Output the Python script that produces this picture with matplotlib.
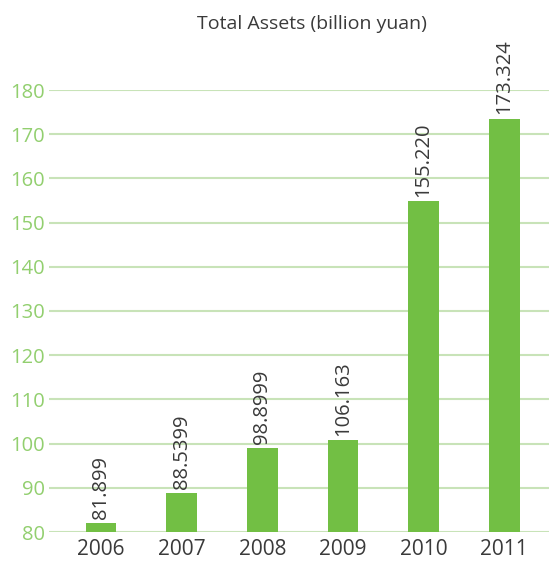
import matplotlib.pyplot as plt

years = ['2006', '2007', '2008', '2009', '2010', '2011']
bar_heights = [82.0, 88.8, 99.0, 100.8, 154.8, 173.5]
value_labels = ['81.899', '88.5399', '98.8999', '106.163', '155.220', '173.324']
y_ticks = [80, 90, 100, 110, 120, 130, 140, 150, 160, 170, 180]

bar_color = '#72bf44'
grid_color = '#c8e3b8'
tick_color = '#92cf6f'
text_color = '#3a3a3a'

plt.rcParams['font.family'] = ['Open Sans', 'DejaVu Sans']

fig = plt.figure(figsize=(5.49, 5.65), dpi=100)
ax = fig.add_axes([49 / 549, 1 - 532 / 565, 500 / 549, (532 - 90) / 565])

x = list(range(len(years)))
ax.bar(x, [h - 80 for h in bar_heights], bottom=80, width=0.38, color=bar_color, zorder=3)

# value labels above each bar
for xi, h, lab in zip(x, bar_heights, value_labels):
    ax.text(xi, h + 1.0, lab, rotation=90, ha='center', va='bottom',
            fontsize=14.5, color=text_color, clip_on=False, zorder=4)

ax.set_xlim(-0.645, 5.555)
ax.set_ylim(80, 180)
ax.set_yticks(y_ticks)
ax.set_xticks(x)
ax.set_xticklabels(years)
ax.yaxis.grid(True, color=grid_color, lw=1.5, zorder=0)
ax.tick_params(axis='y', length=0, pad=3, labelsize=14.5, labelcolor=tick_color)
ax.tick_params(axis='x', length=0, pad=5, labelsize=15, labelcolor=text_color)
for s in ax.spines.values():
    s.set_visible(False)

fig.text(312 / 549, 1 - 24 / 565, 'Total Assets (billion yuan)', ha='center', va='center',
         fontsize=14, color=text_color)

fig.savefig('out.png', dpi=100)
